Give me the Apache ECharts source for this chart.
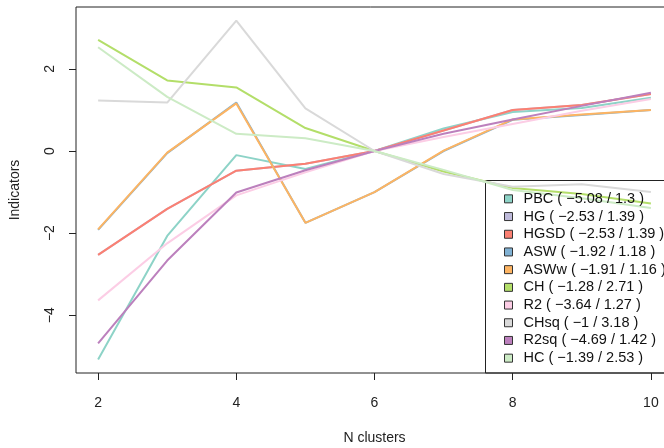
<!DOCTYPE html>
<html>
<head>
<meta charset="utf-8">
<script src="https://cdn.jsdelivr.net/npm/echarts@6/dist/echarts.min.js"></script>
<style>
  html, body { margin: 0; padding: 0; background: #fff; }
  #main { width: 664px; height: 448px; }
</style>
</head>
<body>
<div id="main"></div>
<script>
// number of clusters
var nClusters = [2, 3, 4, 5, 6, 7, 8, 9, 10];

// indicator values
var PBC  = [-5.08, -2.07, -0.10, -0.44, 0, 0.55, 0.95, 1.05, 1.30];
var HG   = [-2.53, -1.41, -0.48, -0.31, 0, 0.50, 1.00, 1.12, 1.39];
var HGSD = [-2.53, -1.41, -0.48, -0.31, 0, 0.50, 1.00, 1.12, 1.39];
var ASW  = [-1.92, -0.05, 1.18, -1.75, -1.00, 0.00, 0.76, 0.88, 1.00];
var ASWw = [-1.91, -0.04, 1.16, -1.75, -1.00, 0.01, 0.77, 0.89, 1.00];
var CH   = [2.71, 1.72, 1.55, 0.56, 0, -0.50, -0.90, -1.05, -1.28];
var R2   = [-3.64, -2.25, -1.08, -0.52, 0, 0.34, 0.66, 0.98, 1.27];
var CHsq = [1.23, 1.18, 3.18, 1.04, 0, -0.56, -0.87, -0.81, -1.00];
var R2sq = [-4.69, -2.67, -1.01, -0.47, 0, 0.42, 0.77, 1.10, 1.42];
var HC   = [2.53, 1.32, 0.42, 0.31, 0, -0.46, -0.95, -1.15, -1.39];

var seriesNames = ['PBC', 'HG', 'HGSD', 'ASW', 'ASWw', 'CH', 'R2', 'CHsq', 'R2sq', 'HC'];
var seriesData = [PBC, HG, HGSD, ASW, ASWw, CH, R2, CHsq, R2sq, HC];
var legendLabels = [
  'PBC ( \u22125.08 / 1.3 )',
  'HG ( \u22122.53 / 1.39 )',
  'HGSD ( \u22122.53 / 1.39 )',
  'ASW ( \u22121.92 / 1.18 )',
  'ASWw ( \u22121.91 / 1.16 )',
  'CH ( \u22121.28 / 2.71 )',
  'R2 ( \u22123.64 / 1.27 )',
  'CHsq ( \u22121 / 3.18 )',
  'R2sq ( \u22124.69 / 1.42 )',
  'HC ( \u22121.39 / 2.53 )'
];
var colors = ['#8DD3C7', '#BEBADA', '#FB8072', '#80B1D3', '#FDB462',
              '#B3DE69', '#FCCDE5', '#D9D9D9', '#BC80BD', '#CCEBC5'];

var xTicks = [2, 4, 6, 8, 10];
var yTicks = [-4, -2, 0, 2];

var font = 'Liberation Sans';

var chart = echarts.init(document.getElementById('main'), null, { renderer: 'canvas' });

var series = seriesNames.map(function (name, i) {
  return {
    name: legendLabels[i],
    type: 'line',
    data: nClusters.map(function (k, j) { return [k, seriesData[i][j]]; }),
    showSymbol: false,
    symbol: 'none',
    lineStyle: { color: colors[i], width: 2 },
    itemStyle: { color: colors[i] },
    animation: false
  };
});

var option = {
  animation: false,
  backgroundColor: '#fff',
  textStyle: { fontFamily: font },
  // plot region runs past the right edge of the picture, like the original
  grid: {
    left: 76, top: 7, width: 597, height: 366,
    outerBoundsMode: 'none',
    containLabel: false,
    show: true, borderColor: '#222', borderWidth: 1
  },
  xAxis: {
    type: 'value',
    min: 1.68, max: 10.32,
    name: 'N clusters',
    nameLocation: 'middle',
    nameGap: 58,
    nameTextStyle: { fontSize: 14, color: '#222', fontFamily: font },
    axisLine: { show: false, onZero: false },
    splitLine: { show: false },
    axisTick: { show: true, length: 7, lineStyle: { color: '#222' }, customValues: xTicks },
    axisLabel: { fontSize: 14, color: '#222', margin: 23, customValues: xTicks, fontFamily: font }
  },
  yAxis: {
    type: 'value',
    min: -5.41, max: 3.51,
    name: 'Indicators',
    nameLocation: 'middle',
    nameGap: 54,
    nameTextStyle: { fontSize: 14, color: '#222', fontFamily: font },
    axisLine: { show: false, onZero: false },
    splitLine: { show: false },
    axisTick: { show: true, length: 7, lineStyle: { color: '#222' }, customValues: yTicks },
    axisLabel: {
      fontSize: 14, color: '#222', margin: 19, rotate: 90, customValues: yTicks, fontFamily: font,
      formatter: function (v) { return v < 0 ? '\u2212' + Math.abs(v) : String(v); }
    }
  },
  legend: {
    orient: 'vertical',
    left: 504,
    top: 190,
    padding: 0,
    icon: 'rect',
    itemWidth: 8,
    itemHeight: 8,
    itemGap: 0,
    itemStyle: { borderColor: '#333', borderWidth: 1 },
    textStyle: { fontSize: 14.5, color: '#111', lineHeight: 17.7, padding: [0, 0, 0, 6], fontFamily: font },
    selectedMode: false,
    data: legendLabels
  },
  // legend frame, open on the right where the picture is cut off
  graphic: [{
    type: 'rect',
    shape: { x: 485.5, y: 180.5, width: 220, height: 192.5 },
    style: { fill: 'none', stroke: '#222', lineWidth: 1 },
    silent: true
  }],
  series: series
};

chart.setOption(option);
</script>
</body>
</html>
